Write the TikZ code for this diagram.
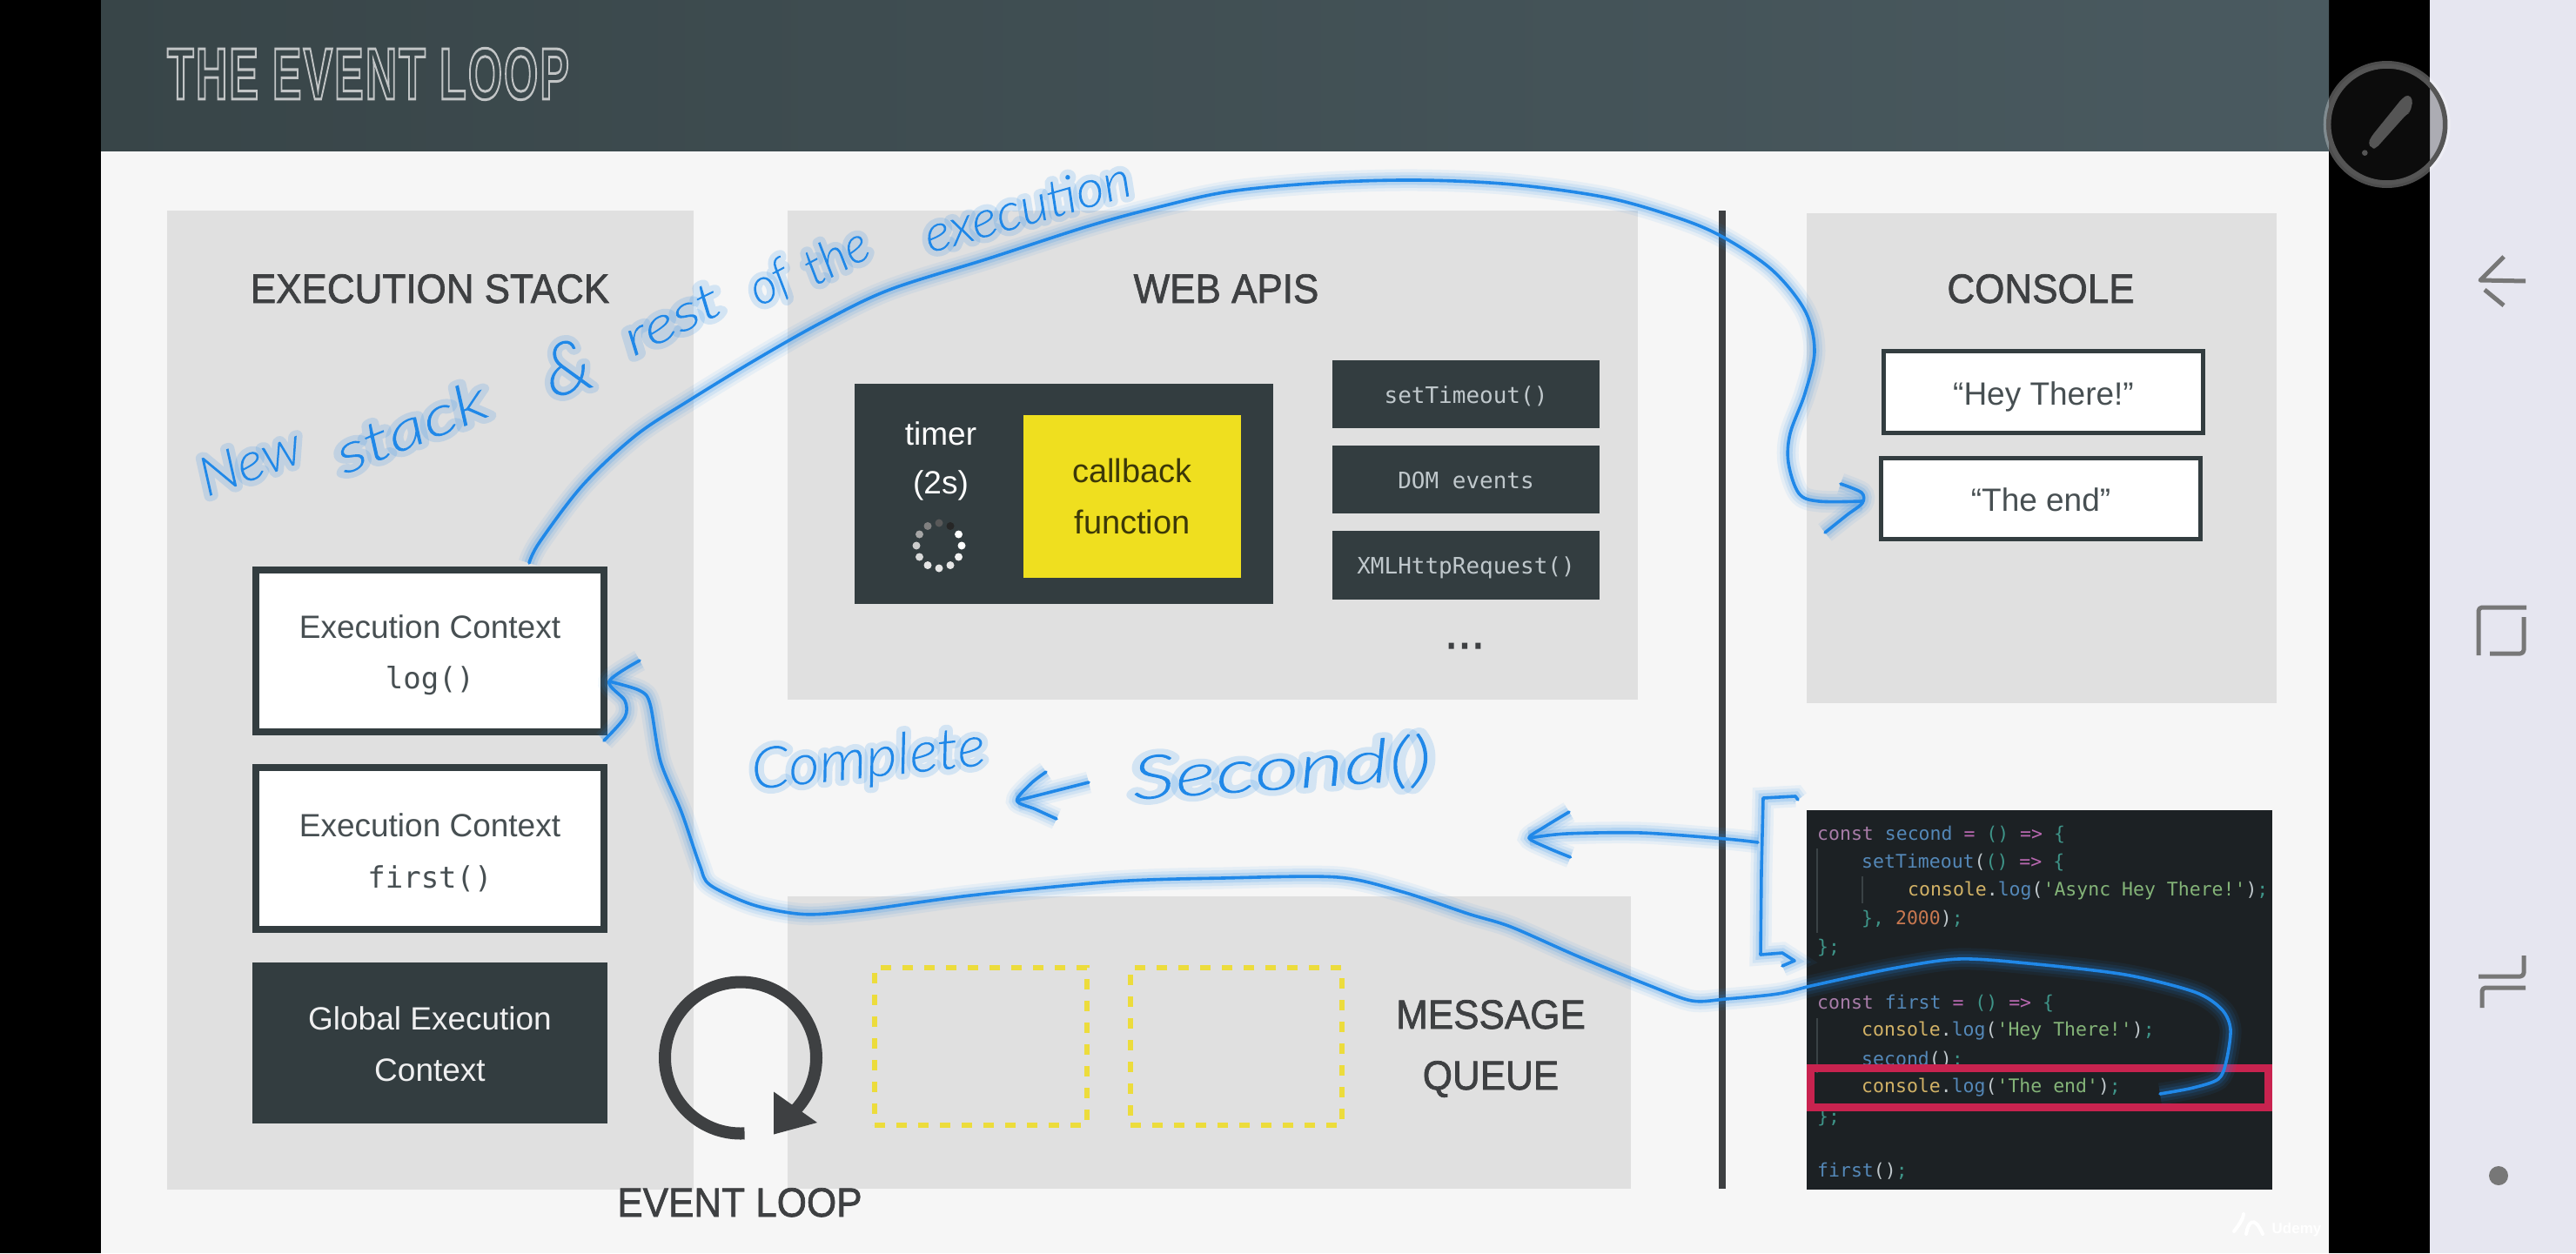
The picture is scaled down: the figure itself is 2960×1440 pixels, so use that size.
\documentclass[tikz,border=0pt]{standalone}
\usepackage{fontspec}
\setmainfont{Liberation Sans}
\setmonofont{DejaVu Sans Mono}
\newfontfamily\handf{Lato}[ItalicFont={Lato Light Italic}]
\definecolor{pagebg}{HTML}{F6F6F6}
\definecolor{panelc}{HTML}{E0E0E0}
\definecolor{darkc}{HTML}{333D40}
\definecolor{yellowc}{HTML}{EFDF1F}
\definecolor{dashc}{HTML}{ECDC3C}
\definecolor{headc}{HTML}{3E4042}
\definecolor{bodyc}{HTML}{474F52}
\definecolor{inkc}{HTML}{2088E8}
\definecolor{navc}{HTML}{777777}
\definecolor{codebg}{HTML}{1C2124}
\definecolor{guidec}{HTML}{3A4245}
\definecolor{kw}{HTML}{A87CA8}
\definecolor{fn}{HTML}{5488B8}
\definecolor{pn}{HTML}{3E9488}
\definecolor{ye}{HTML}{D2B266}
\definecolor{st}{HTML}{84B478}
\definecolor{nu}{HTML}{C87850}
\definecolor{wh}{HTML}{C0C8CC}
\definecolor{mg}{HTML}{B868B0}
\definecolor{redc}{HTML}{C8234F}
\definecolor{sidec}{HTML}{E6E6F0}
\definecolor{headl}{HTML}{384548}
\definecolor{headr}{HTML}{4A5A60}
\definecolor{penc}{HTML}{555555}
\definecolor{discc}{HTML}{0C0C0C}
\newcommand{\fsz}[1]{\fontsize{#1}{#1}\selectfont}
\newcommand{\cc}[2]{\textcolor{#1}{#2}}
\newcommand{\hd}[1]{\scalebox{1}[1.07]{\special{pdf:code 2 Tr .7 w}#1\special{pdf:code 0 Tr}}}
\newcommand{\boxat}[7]{%
  \pgfmathsetmacro\bxw{#4-#2}\pgfmathsetmacro\bxh{#5-#3}%
  \node[#6,minimum width=\bxw pt,minimum height=\bxh pt] (#1) at ({(#2+#4)/2},{(#3+#5)/2}) {#7};}
% name, x, y, angle, size, x-stretch, text: glyphs opaque, their stroke a pale halo
\newcommand{\handword}[7]{%
  \node[handtxt,rotate=#4] (#1) at (#2,#3) {\pgfsetstrokeopacity{.16}\handf\itshape\fsz{#5}\color{inkc}\scalebox{#6}[1]{\special{pdf:code 2 Tr 13 w 1 j}#7\special{pdf:code 0 Tr}}};}
\tikzset{
  panel/.style={fill=panelc,draw=none,inner sep=0pt},
  heading/.style={text=headc,font=\fsz{44},inner sep=0pt,anchor=center,text height=34pt,text depth=0pt},
  twolinefont/.style={font=\fontsize{37}{58.5}\selectfont},
  whitebox/.style={fill=white,draw=darkc,line width=8pt,inner sep=0pt,text=bodyc,align=center,twolinefont},
  consolebox/.style={fill=white,draw=darkc,line width=5pt,inner sep=0pt,text=bodyc,font=\fsz{37},text height=29pt,text depth=0pt},
  darkbox/.style={fill=darkc,draw=none,inner sep=0pt},
  apitxt/.style={text=wh,font=\ttfamily\fsz{26},text height=20pt,text depth=0pt},
  plain/.style={inner sep=0pt,anchor=center},
  dashbox/.style={draw=dashc,line width=6pt,dash pattern=on 12pt off 13pt,inner sep=0pt},
  codeline/.style={inner sep=0pt,anchor=base west,font=\ttfamily\fsz{21.5},text=pn},
  ink/.style={line width=3.6pt,draw=inkc,line cap=round,line join=round,
     preaction={draw=inkc,draw opacity=.07,line width=25pt},
     preaction={draw=inkc,draw opacity=.10,line width=18pt},
     preaction={draw=inkc,draw opacity=.16,line width=11pt}},
  handtxt/.style={inner sep=0pt,anchor=center},
  nav/.style={draw=navc,line width=5pt,line cap=butt,line join=round},
  guide/.style={draw=guidec,line width=2pt}
}
\newcommand{\monoline}[1]{{\ttfamily\fontsize{34}{58.5}\selectfont #1}}
\begin{document}
\begin{tikzpicture}[x=1pt,y=-1pt]
\useasboundingbox (0,0) rectangle (2960,1440);
% screen
\fill[black] (0,0) rectangle (2792,1440);
\fill[sidec] (2792,0) rectangle (2960,1440);
\fill[pagebg] (116,173) rectangle (2676,1440);
\shade[left color=headl,right color=headr] (116,0) rectangle (2676,173);
% title
\node[plain,text=white!70!darkc] (title) at (423,85) {\scalebox{.6}[1]{\addfontfeature{LetterSpace=4}\bfseries\fsz{84}\special{pdf:code 1 Tr 3 w}THE EVENT LOOP\special{pdf:code 0 Tr}}};
% panels
\boxat{stackpanel}{192}{242}{797}{1367}{panel}{}
\boxat{webpanel}{905}{242}{1882}{804}{panel}{}
\boxat{queuepanel}{905}{1030}{1874}{1366}{panel}{}
\boxat{consolepanel}{2076}{245}{2616}{808}{panel}{}
\coordinate (divtop) at (1979,242);
\coordinate (divbot) at (1979,1366);
\draw[draw=headc,line width=8pt] (divtop) -- (divbot);
% headings
\node[heading] (stackhead) at (494,331) {\hd{EXECUTION STACK}};
\node[heading] (webhead) at (1409,331) {\hd{WEB APIS}};
\node[heading] (consolehead) at (2345,331) {\hd{CONSOLE}};
% stack
\boxat{logbox}{294}{655}{694}{840.5}{whitebox}{\rule{0pt}{37pt}Execution Context\\\monoline{log()}}
\boxat{firstbox}{294}{882}{694}{1068}{whitebox}{\rule{0pt}{36pt}Execution Context\\\monoline{first()}}
\boxat{globalbox}{290}{1106}{698}{1291}{darkbox,text=white!92!darkc,align=center,twolinefont}{\rule{0pt}{29pt}Global Execution\\Context}
% web apis
\boxat{timerbox}{981.5}{441}{1463}{694}{darkbox}{}
\boxat{callbackbox}{1176}{477}{1426}{664}{fill=yellowc,inner sep=0pt,text=black!75!yellowc,align=center,font=\fontsize{38}{59}\selectfont}{callback\\function}
\node[plain,text=white,font=\fsz{37}] (timertxt) at (1081,498) {timer};
\node[plain,text=white,font=\fsz{37}] (twostxt) at (1081,558) {(2s)};
\coordinate (spin) at (1079,627);
\foreach \a/\c in {60/black!85!white,90/black!65!white,120/black!50!white,150/white!65!black,180/white!80!black,210/white!85!black,240/white!90!black,270/white!90!black,300/white!90!black,330/white!95!black,0/white,30/white}{
  \fill[\c] (spin) ++(-\a:26) circle[radius=4.5];
}
\boxat{api1}{1531}{414}{1838}{492}{darkbox,apitxt}{setTimeout()}
\boxat{api2}{1531}{512}{1838}{590}{darkbox,apitxt}{DOM events}
\boxat{api3}{1531}{610}{1838}{689}{darkbox,apitxt}{XMLHttpRequest()}
\node[plain,anchor=base,text=headc,font=\ttfamily\fsz{25.5}] (apidots) at (1683,744) {\special{pdf:code 2 Tr 3 w}...\special{pdf:code 0 Tr}};
% console
\boxat{heybox}{2164.5}{403.5}{2531.5}{497.5}{consolebox}{“Hey There!”}
\boxat{endbox}{2161.5}{526}{2528.5}{619.5}{consolebox}{“The end”}
% queue
\boxat{slot1}{1005}{1112}{1249}{1293}{dashbox}{}
\boxat{slot2}{1299}{1112}{1542}{1293}{dashbox}{}
\node[heading] (msgtxt) at (1713,1165) {\hd{MESSAGE}};
\node[heading] (quetxt) at (1713,1235) {\hd{QUEUE}};
% event loop
\coordinate (loopc) at (851,1215.5);
\draw[draw=headc,line width=14pt] (loopc) ++(87:87) arc[start angle=87,end angle=406,radius=87];
\fill[headc] (889,1254.5) -- (939,1290) -- (889,1303.5) -- cycle;
\node[heading] (looptxt) at (850,1381) {\hd{EVENT LOOP}};
% code
\boxat{codebox}{2076}{931}{2610.5}{1367}{fill=codebg,inner sep=0pt}{}
\draw[guide] (2088,975) -- (2088,1072);
\draw[guide] (2140,1007) -- (2140,1038);
\draw[guide] (2088,1170) -- (2088,1233);
\node[codeline] (c1) at (2088,965) {\cc{kw}{const} \cc{fn}{second} \cc{mg}{=} () \cc{mg}{=>} \{};
\node[codeline] (c2) at (2139,997) {\cc{fn}{setTimeout}\cc{wh}{(}() \cc{mg}{=>} \{};
\node[codeline] (c3) at (2192,1029) {\cc{ye}{console}\cc{wh}{.}\cc{fn}{log}\cc{wh}{(}\cc{st}{'Async Hey There!'}\cc{wh}{)};};
\node[codeline] (c4) at (2139,1062) {\}, \cc{nu}{2000}\cc{wh}{)};};
\node[codeline] (c5) at (2088,1095) {\};};
\node[codeline] (c6) at (2088,1159) {\cc{kw}{const} \cc{fn}{first} \cc{mg}{=} () \cc{mg}{=>} \{};
\node[codeline] (c7) at (2139,1190) {\cc{ye}{console}\cc{wh}{.}\cc{fn}{log}\cc{wh}{(}\cc{st}{'Hey There!'}\cc{wh}{)};};
\node[codeline] (c8) at (2139,1224) {\cc{fn}{second}\cc{wh}{()};};
\node[codeline] (c9) at (2139,1255) {\cc{ye}{console}\cc{wh}{.}\cc{fn}{log}\cc{wh}{(}\cc{st}{'The end'}\cc{wh}{)};};
\node[codeline] (c10) at (2088,1290) {\};};
\node[codeline] (c11) at (2088,1352) {\cc{fn}{first}\cc{wh}{()};};
\boxat{redbox}{2080.5}{1227.5}{2606}{1272.5}{draw=redc,line width=9pt,inner sep=0pt}{}
% handwritten ink: arrow from code to console "The end"
\coordinate (inkA) at (608,647);
\coordinate (tipEnd) at (2139.5,576);
\draw[ink] plot[smooth,tension=.55] coordinates {(inkA) (620,623) (670,557) (731,500) (792,460) (869,413) (945,370) (1022,333) (1136,297) (1250,260) (1331,238) (1413,220) (1521,210) (1629,207) (1738,212) (1846,227) (1927,250) (1979,272) (2036,310) (2074,357) (2085,403) (2074,452) (2057,498) (2055,532) (2067,567) (2090,576) (tipEnd)};
\draw[ink] plot[smooth,tension=.5] coordinates {(2115,556) (2139,566) (2140,578) (2122,592) (2097,612)};
% from highlighted line to log box
\coordinate (inkB) at (2482,1257);
\coordinate (tipLog) at (700,783);
\draw[ink] plot[smooth,tension=.5] coordinates {(inkB) (2520,1250) (2549,1240) (2558,1220) (2563,1183) (2553,1160) (2522,1140) (2442,1120) (2330,1107) (2250,1102) (2174,1113) (2085,1132) (2043,1142) (1983,1148) (1944,1150) (1894,1132) (1811,1098) (1736,1065) (1687,1050) (1612,1025) (1537,1008) (1405,1009) (1280,1013) (1115,1029) (990,1046) (924,1050.6) (866,1040) (816,1017) (804,994) (783,933) (759,875) (747,809) (735,793.5) (tipLog)};
\draw[ink] plot[smooth,tension=.5] coordinates {(735,759) (700,783) (718,805) (718,824) (694,851)};
% bracket and arrow from second()
\coordinate (brkT) at (2066,919);
\coordinate (brkB) at (2048,1110);
\draw[ink] (brkT) -- (2063,915) -- (2026,917) -- (2024,1000) -- (2023,1097) -- (2048,1095) -- (2062,1104) -- (brkB);
\coordinate (tipSec) at (1757,963);
\coordinate (brkM) at (2020,968);
\draw[ink] plot[smooth,tension=.5] coordinates {(brkM) (1983,964) (1886,957) (1800,958) (tipSec)};
\draw[ink] plot[smooth,tension=.4] coordinates {(1803,933) (1775,950) (tipSec) (1780,975) (1804.5,985)};
% small arrow between the words
\coordinate (tipCs) at (1168.5,920);
\coordinate (tailCs) at (1251,899);
\draw[ink] (tailCs) -- (tipCs);
\draw[ink] plot[smooth,tension=.5] coordinates {(1202,887) (1185,900) (tipCs) (1190,930) (1214,941)};
% handwriting
\handword{hNew}{287}{530}{20}{62}{1.05}{New}
\handword{hStack}{472}{490}{22}{64}{1.35}{stack}
\handword{hAmp}{652}{422}{15}{84}{1}{\&}
\handword{hRest}{772}{367}{26}{58}{1.35}{rest}
\handword{hOf}{885}{327}{28}{58}{1}{of}
\handword{hThe}{960}{293}{28}{58}{1}{the}
\handword{hExec}{1180}{237}{16}{60}{1.05}{execution}
\handword{hComp}{998}{875}{6}{66}{1.05}{Complete}
\handword{hSec}{1473}{885}{4}{70}{1.43}{Second()}
% watermark
\node[plain,text=white,font=\bfseries\fsz{17}] (wm) at (2639,1413) {Udemy};
\draw[white,line width=4pt,line cap=round] (2567,1415) .. controls (2575,1405) and (2578,1398) .. (2578,1395);
\draw[white,line width=4pt,line cap=round] (2581,1418) .. controls (2583,1405) and (2590,1395) .. (2600,1418);
% pen button
\coordinate (penc) at (2742.7,143);
\fill[black,opacity=.25] (penc) circle[radius=68];
\begin{scope}
  \clip (2676,0) rectangle (2792,300);
  \fill[discc] (penc) circle[radius=68];
\end{scope}
\draw[white,opacity=.3,line width=4pt] (penc) circle[radius=71];
\draw[draw=penc,line width=5.5pt] (penc) circle[radius=67];
\begin{scope}[shift={(2560,0)},x=.3333pt,y=-.3333pt]
  \fill[penc,rounded corners=4pt] (483,495) -- (497,512) -- (510,512) -- (615,395) -- (628,388) -- (638,345) -- (622,325) -- (600,340) -- (495,470) -- cycle;
  \fill[penc] (472,527) circle[radius=10];
\end{scope}
% navigation icons
\draw[nav] (2902,323) -- (2850,322) -- (2877,295);
\draw[nav] (2855,333) -- (2877,351);
\draw[nav,rounded corners=4pt] (2848,753) -- (2848,698) -- (2903,698);
\draw[nav,rounded corners=4pt] (2861,751) -- (2900,751) -- (2900,709);
\draw[nav,rounded corners=4pt] (2900,1098) -- (2900,1122) -- (2848,1122);
\draw[nav,rounded corners=4pt] (2902,1135) -- (2852,1135) -- (2852,1158);
\fill[navc] (2871,1351) circle[radius=11];
\end{tikzpicture}
\end{document}
